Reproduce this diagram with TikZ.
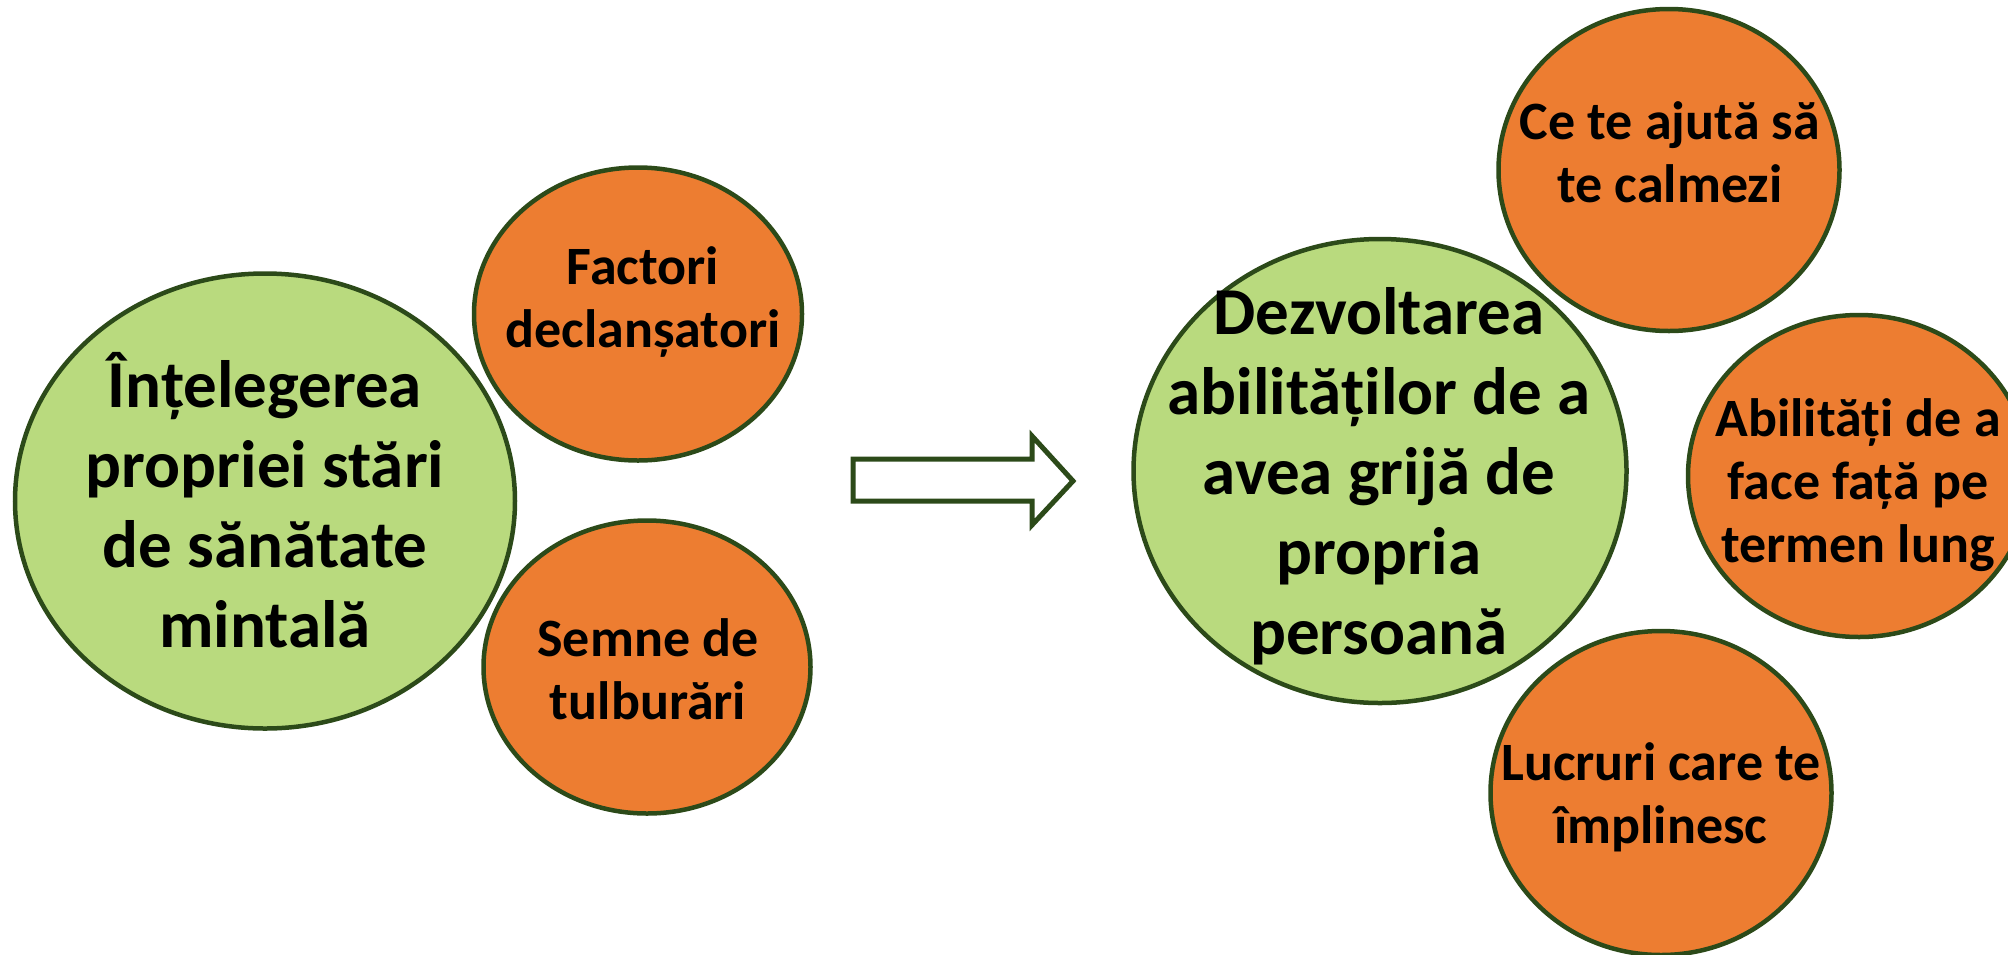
\documentclass[tikz,border=0pt]{standalone}
\usepackage{fontspec}
\setmainfont{Carlito}
\usetikzlibrary{shapes.geometric}
\definecolor{lgreen}{HTML}{B9DA7E}
\definecolor{dgreen}{HTML}{2C4A19}
\definecolor{orng}{HTML}{ED7D31}
\tikzset{
  bubble/.style={ellipse, draw=dgreen, line width=4.5pt, inner sep=0pt},
  bigbub/.style={bubble, fill=lgreen},
  smallbub/.style={bubble, fill=orng},
  bigtxt/.style={align=center, font=\bfseries\fontsize{67}{80}\selectfont, inner sep=0pt},
  smalltxt/.style={align=center, font=\bfseries\fontsize{54}{63}\selectfont, inner sep=0pt},
  blockarrow/.style={draw=dgreen, fill=white, line width=5pt, line join=miter}
}
\begin{document}
\begin{tikzpicture}[x=1pt,y=-1pt]
\useasboundingbox (0,0) rectangle (2008,954);
\clip (0,0) rectangle (2008,954);
% left group
\node[bigbub, minimum width=500pt, minimum height=455pt] (g1) at (265,501) {};
\node[smallbub, minimum width=328pt, minimum height=293pt] (o1) at (638,314) {};
\node[smallbub, minimum width=327pt, minimum height=293pt] (o2) at (647,667) {};
\node[bigtxt] (t1) at (265,500) {Înțelegerea\\propriei stări\\de sănătate\\mintală};
\node[smalltxt] (t2) at (643,302) {Factori\\declanșatori};
\node[smalltxt] (t3) at (648,669) {Semne de\\tulburări};
% arrow
\coordinate (a0) at (853,459);
\coordinate (a1) at (1032,459);
\coordinate (a2) at (1032,436);
\coordinate (a3) at (1073,481);
\coordinate (a4) at (1032,525);
\coordinate (a5) at (1032,501);
\coordinate (a6) at (853,501);
\draw[blockarrow] (a0) -- (a1) -- (a2) -- (a3) -- (a4) -- (a5) -- (a6) -- cycle;
% right group
\node[bigbub, minimum width=493pt, minimum height=464pt] (g2) at (1380,471) {};
\node[smallbub, minimum width=341pt, minimum height=322pt] (o3) at (1669,170) {};
\node[smallbub, minimum width=342pt, minimum height=322pt] (o4) at (1859,476) {};
\node[smallbub, minimum width=341pt, minimum height=324pt] (o5) at (1661,793) {};
\node[bigtxt] (t4) at (1379,476) {Dezvoltarea\\abilităților de a\\avea grijă de\\propria\\persoană};
\node[smalltxt] (t5) at (1670,152) {Ce te ajută să\\te calmezi};
\node[smalltxt] (t6) at (1858,485) {Abilități de a\\face față pe\\termen lung};
\node[smalltxt] (t7) at (1661,797) {Lucruri care te\\împlinesc};
\end{tikzpicture}
\end{document}
